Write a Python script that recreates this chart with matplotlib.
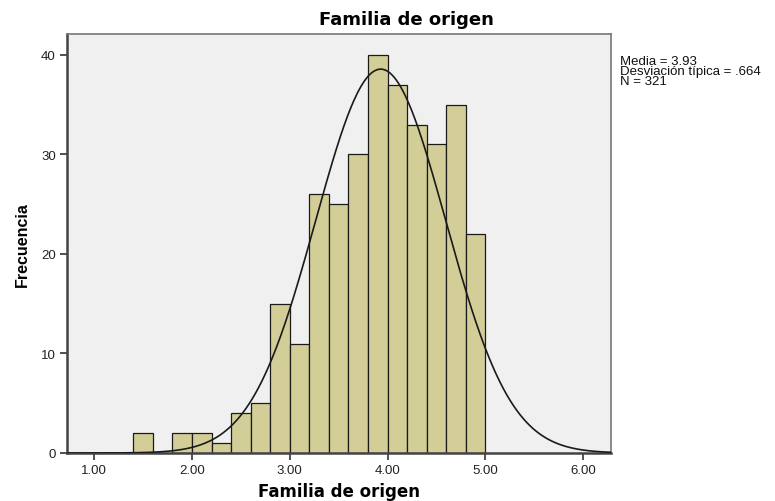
import numpy as np
import matplotlib
matplotlib.use("Agg")
import matplotlib.pyplot as plt

# Data
bin_left = [1.4, 1.6, 1.8, 2.0, 2.2, 2.4, 2.6, 2.8, 3.0, 3.2, 3.4, 3.6, 3.8, 4.0, 4.2, 4.4, 4.6, 4.8]
counts = [2, 0, 2, 2, 1, 4, 5, 15, 11, 26, 25, 30, 40, 37, 33, 31, 35, 22]
bin_width = 0.2
mean = 3.93
sd = 0.664
n = 321
xticks = [1, 2, 3, 4, 5, 6]
xticklabels = ["1.00", "2.00", "3.00", "4.00", "5.00", "6.00"]
yticks = [0, 10, 20, 30, 40]

plt.rcParams['font.family'] = ['Liberation Sans', 'DejaVu Sans']

fig = plt.figure(figsize=(7.75, 5.02), dpi=100)
ax = fig.add_axes([67/775, 1-454/502, (611-67)/775, (454-35)/502])
ax.set_facecolor('#F0F0F0')

ax.bar(bin_left, counts, width=bin_width, align='edge', color='#D3CE97',
       edgecolor='#1a1a1a', linewidth=0.9, zorder=2)

xs = np.linspace(0.72, 6.29, 500)
ys = n * bin_width / (sd * np.sqrt(2 * np.pi)) * np.exp(-0.5 * ((xs - mean) / sd) ** 2)
ax.plot(xs, ys, color='#1a1a1a', linewidth=1.2, zorder=3)

ax.set_xlim(0.721, 6.286)
ax.set_ylim(0, 42.1)
ax.set_xticks(xticks)
ax.set_xticklabels(xticklabels)
ax.set_yticks(yticks)
ax.tick_params(axis='both', direction='out', length=5, width=1.2, color='#333333',
               labelsize=9.5, labelcolor='#222222', pad=3)

for side in ['top', 'right']:
    ax.spines[side].set_color('#777777')
    ax.spines[side].set_linewidth(1.2)
for side in ['left', 'bottom']:
    ax.spines[side].set_color('#444444')
    ax.spines[side].set_linewidth(1.8)

ax.set_xlabel('Familia de origen', fontsize=12, fontweight='bold', labelpad=4,
              family=['DejaVu Sans'])
ax.set_ylabel('Frecuencia', fontsize=11.5, fontweight='bold', labelpad=8)
fig.text(406/775, 1-20/502, 'Familia de origen', ha='center', va='center',
         fontsize=13, fontweight='bold', family=['DejaVu Sans'])

fig.text(620/775, 1-56/502, 'Media = 3.93\nDesviación típica = .664\nN = 321',
         ha='left', va='top', fontsize=9.5, linespacing=0.8, color='#111111')

fig.savefig('out.png', dpi=100)
